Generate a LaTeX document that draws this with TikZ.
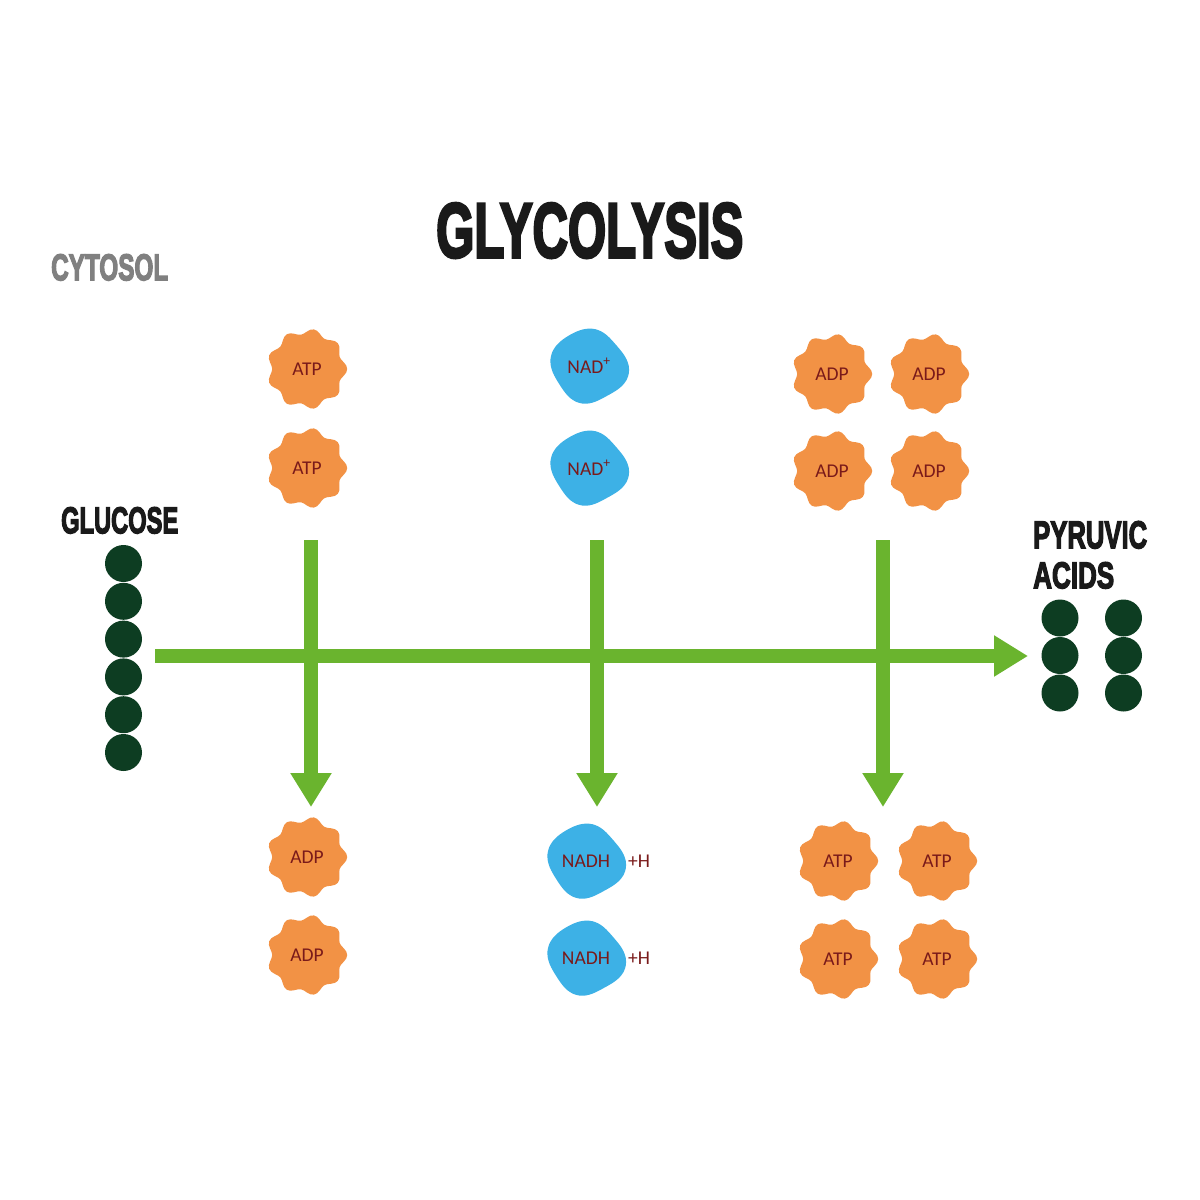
\documentclass[tikz,border=0pt]{standalone}
\usepackage{fontspec}
\setmainfont{Carlito}
\newfontfamily\heavyfont{Liberation Sans}[UprightFeatures={FakeBold=4}, BoldFeatures={FakeBold=4}]
\usetikzlibrary{arrows.meta}
\definecolor{arrowgreen}{HTML}{6AB42E}
\definecolor{badgeorange}{HTML}{F29245}
\definecolor{blobblue}{HTML}{3DB1E6}
\definecolor{darkgreen}{HTML}{0D3D22}
\definecolor{textred}{HTML}{7A1A1A}
\definecolor{titleblack}{HTML}{1A1A1A}
\definecolor{cytogray}{HTML}{808080}
\tikzset{
  lbl/.style={inner sep=0pt, text=textred, font=\fontsize{19.5}{21}\selectfont},
  heading/.style={inner sep=0pt, text=titleblack},
  arrowline/.style={draw=arrowgreen, line width=14pt, -{Triangle[width=39pt,length=34pt]}},
  ball/.style={circle, fill=darkgreen, minimum size=37pt, inner sep=0pt},
}
\newcommand\orangebadge[4]{%
  \fill[badgeorange, shift={(#2,#3)}] plot[smooth cycle, domain=0:355, samples=72] (\x:{37.5+2.7*cos(9*\x)});
  \node[lbl] (#1) at (#2,#3) {#4};
}
\newcommand\blueblob[4]{%
  \fill[blobblue, shift={(#2,#3)}] plot[smooth cycle, domain=0:350, samples=36] (\x:{37+1.8*cos(4*(\x-12))+1.2*sin(2*\x+40)+0.8*cos(3*\x)});
  \node[lbl] (#1) at (#2,#3) {#4};
}
\begin{document}
\begin{tikzpicture}[x=1pt,y=-1pt]
\fill[white] (0,0) rectangle (1200,1200);
\useasboundingbox (0,0) rectangle (1200,1200);

% headings
\node[heading, anchor=north west] (title) at (436,203) {\resizebox{307pt}{54pt}{\heavyfont\bfseries GLYCOLYSIS}};
\node[heading, anchor=north west, text=cytogray] (cytosol) at (51,254) {\resizebox{117pt}{26pt}{\heavyfont\bfseries CYTOSOL}};
\node[heading, anchor=north west] (glucose) at (61,507) {\resizebox{117pt}{26pt}{\heavyfont\bfseries GLUCOSE}};
\node[heading, anchor=north west] (pyruvic) at (1033,521) {\resizebox{114pt}{27pt}{\heavyfont\bfseries PYRUVIC}};
\node[heading, anchor=north west] (acids) at (1033,562) {\resizebox{81pt}{26pt}{\heavyfont\bfseries ACIDS}};

% glucose balls
\foreach \i/\yy in {1/563.5,2/601.3,3/639.1,4/676.9,5/714.7,6/752.5}
  \node[ball] (g\i) at (123.5,\yy) {};

% pyruvic balls
\foreach \i/\yy in {1/618,2/655.5,3/693}{
  \node[ball] (pl\i) at (1060,\yy) {};
  \node[ball] (pr\i) at (1123.5,\yy) {};
}

% arrows
\coordinate (hs) at (155,656);
\coordinate (he) at (1028,656);
\coordinate (v1s) at (311,540);
\coordinate (v1e) at (311,807);
\coordinate (v2s) at (597,540);
\coordinate (v2e) at (597,807);
\coordinate (v3s) at (883,540);
\coordinate (v3e) at (883,807);
\draw[arrowline] (hs) -- (he);
\draw[arrowline] (v1s) -- (v1e);
\draw[arrowline] (v2s) -- (v2e);
\draw[arrowline] (v3s) -- (v3e);

% left column
\orangebadge{atp1}{307}{369}{ATP}
\orangebadge{atp2}{307}{468}{ATP}
\orangebadge{adp1}{307}{857}{ADP}
\orangebadge{adp2}{307}{955}{ADP}

% middle column
\blueblob{nad1}{589}{366}{NAD\textsuperscript{+}}
\blueblob{nad2}{589}{468}{NAD\textsuperscript{+}}
\blueblob{nadh1}{586}{861}{NADH}
\blueblob{nadh2}{586}{958}{NADH}
\node[lbl] (h1) at (639,861) {+H};
\node[lbl] (h2) at (639,958) {+H};

% right column
\orangebadge{adp3}{832}{374}{ADP}
\orangebadge{adp4}{929}{374}{ADP}
\orangebadge{adp5}{832}{471}{ADP}
\orangebadge{adp6}{929}{471}{ADP}
\orangebadge{atp3}{838}{861}{ATP}
\orangebadge{atp4}{937}{861}{ATP}
\orangebadge{atp5}{838}{959}{ATP}
\orangebadge{atp6}{937}{959}{ATP}
\end{tikzpicture}
\end{document}
